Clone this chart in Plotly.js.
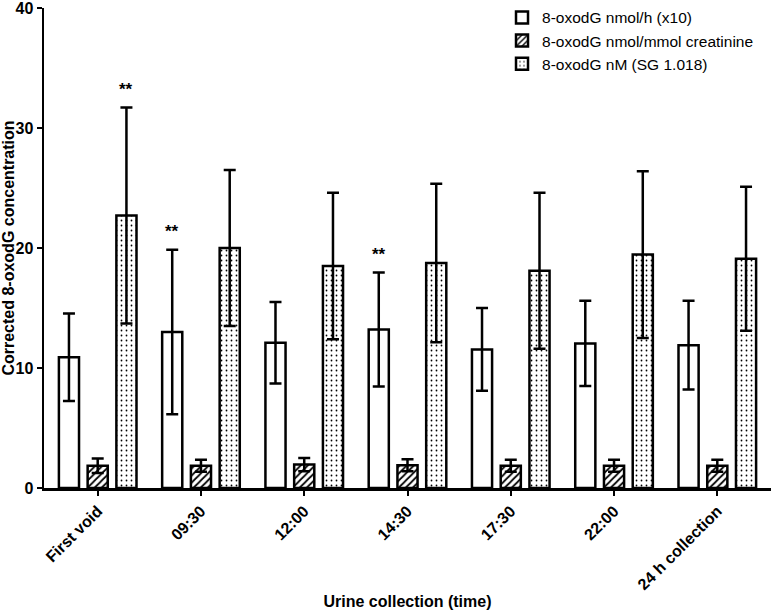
<!DOCTYPE html>
<html>
<head>
<meta charset="utf-8">
<script src="https://cdn.plot.ly/plotly-3.0.1.min.js"></script>
<style>html,body{margin:0;padding:0;background:#fff;}#chart{width:771px;height:610px;}</style>
</head>
<body>
<div id="chart"></div>
<script>
// Categories
const categories = ["First void", "09:30", "12:00", "14:30", "17:30", "22:00", "24 h collection"];

// Series names
const seriesNames = ["8-oxodG nmol/h (x10)", "8-oxodG nmol/mmol creatinine", "8-oxodG nM (SG 1.018)"];

// Means
const nmolPerHour = [10.9, 13.0, 12.1, 13.2, 11.55, 12.05, 11.9];
const nmolPerCreat = [1.85, 1.85, 1.95, 1.9, 1.85, 1.85, 1.85];
const nMSG = [22.7, 20.0, 18.5, 18.75, 18.1, 19.45, 19.1];

// Error (SD)
const nmolPerHourErr = [3.65, 6.85, 3.4, 4.75, 3.45, 3.55, 3.7];
const nmolPerCreatErr = [0.6, 0.5, 0.55, 0.5, 0.5, 0.5, 0.5];
const nMSGErr = [9.0, 6.5, 6.1, 6.6, 6.5, 6.95, 6.0];

// Significance markers: [category index, series index]
const significance = [[0, 2], [1, 0], [3, 0]];
const sigLabel = "**";

const FONT = "Liberation Sans, Arial, sans-serif";
const lineW = 2.5;

function errBar(arr) {
  return {type: "data", array: arr, visible: true, color: "#000", thickness: lineW, width: 6};
}

const traces = [
  {
    type: "bar", name: seriesNames[0], x: categories, y: nmolPerHour,
    marker: {color: "#fff", line: {color: "#000", width: lineW}},
    error_y: errBar(nmolPerHourErr)
  },
  {
    type: "bar", name: seriesNames[1], x: categories, y: nmolPerCreat,
    marker: {color: "#fff", line: {color: "#000", width: lineW},
      pattern: {shape: "/", fgcolor: "#000", bgcolor: "#fff", size: 5, solidity: 0.35}},
    error_y: errBar(nmolPerCreatErr)
  },
  {
    type: "bar", name: seriesNames[2], x: categories, y: nMSG,
    marker: {color: "#fff", line: {color: "#000", width: lineW},
      pattern: {shape: ".", fgcolor: "#000", bgcolor: "#fff", size: 5, solidity: 0.1}},
    error_y: errBar(nMSGErr)
  }
];

const means = [nmolPerHour, nmolPerCreat, nMSG];
const errs = [nmolPerHourErr, nmolPerCreatErr, nMSGErr];
const groupOffsets = [-0.278, 0, 0.278];

const annotations = significance.map(([ci, si]) => ({
  x: ci + groupOffsets[si], y: means[si][ci] + errs[si][ci],
  xref: "x", yref: "y", text: sigLabel, showarrow: false,
  yanchor: "bottom", yshift: 7,
  font: {family: FONT, size: 17, color: "#000", weight: "bold"}
}));

const layout = {
  width: 771, height: 610,
  margin: {l: 44, r: 0, t: 8, b: 122, autoexpand: false},
  paper_bgcolor: "#fff", plot_bgcolor: "#fff",
  font: {family: FONT, color: "#000"},
  barmode: "group", bargap: 0.165, bargroupgap: 0.3,
  showlegend: true,
  legend: {
    x: 0.63, y: 1.015, xanchor: "left", yanchor: "top",
    font: {family: FONT, size: 15.5, color: "#000"},
    bgcolor: "rgba(0,0,0,0)", tracegroupgap: 0, itemwidth: 30
  },
  xaxis: {
    type: "category", range: [-0.52, 6.52],
    showline: true, linecolor: "#000", linewidth: lineW,
    ticks: "outside", ticklen: 5, tickwidth: 2, tickcolor: "#000",
    tickangle: -45, showgrid: false, zeroline: false,
    tickfont: {family: FONT, size: 16, color: "#000", weight: "bold"},
    title: {text: "Urine collection (time)", standoff: 5,
      font: {family: FONT, size: 16, color: "#000", weight: "bold"}},
    automargin: false
  },
  yaxis: {
    range: [0, 40], dtick: 10, tick0: 0,
    showline: true, linecolor: "#000", linewidth: lineW,
    ticks: "outside", ticklen: 5, tickwidth: 2, tickcolor: "#000",
    showgrid: false, zeroline: false, ticklabeloverflow: "allow",
    tickfont: {family: FONT, size: 16, color: "#000", weight: "bold"},
    title: {text: "Corrected 8-oxodG concentration", standoff: 3,
      font: {family: FONT, size: 16, color: "#000", weight: "bold"}},
    automargin: false
  },
  annotations: annotations
};

Plotly.newPlot("chart", traces, layout, {displayModeBar: false, staticPlot: true});
</script>
</body>
</html>
